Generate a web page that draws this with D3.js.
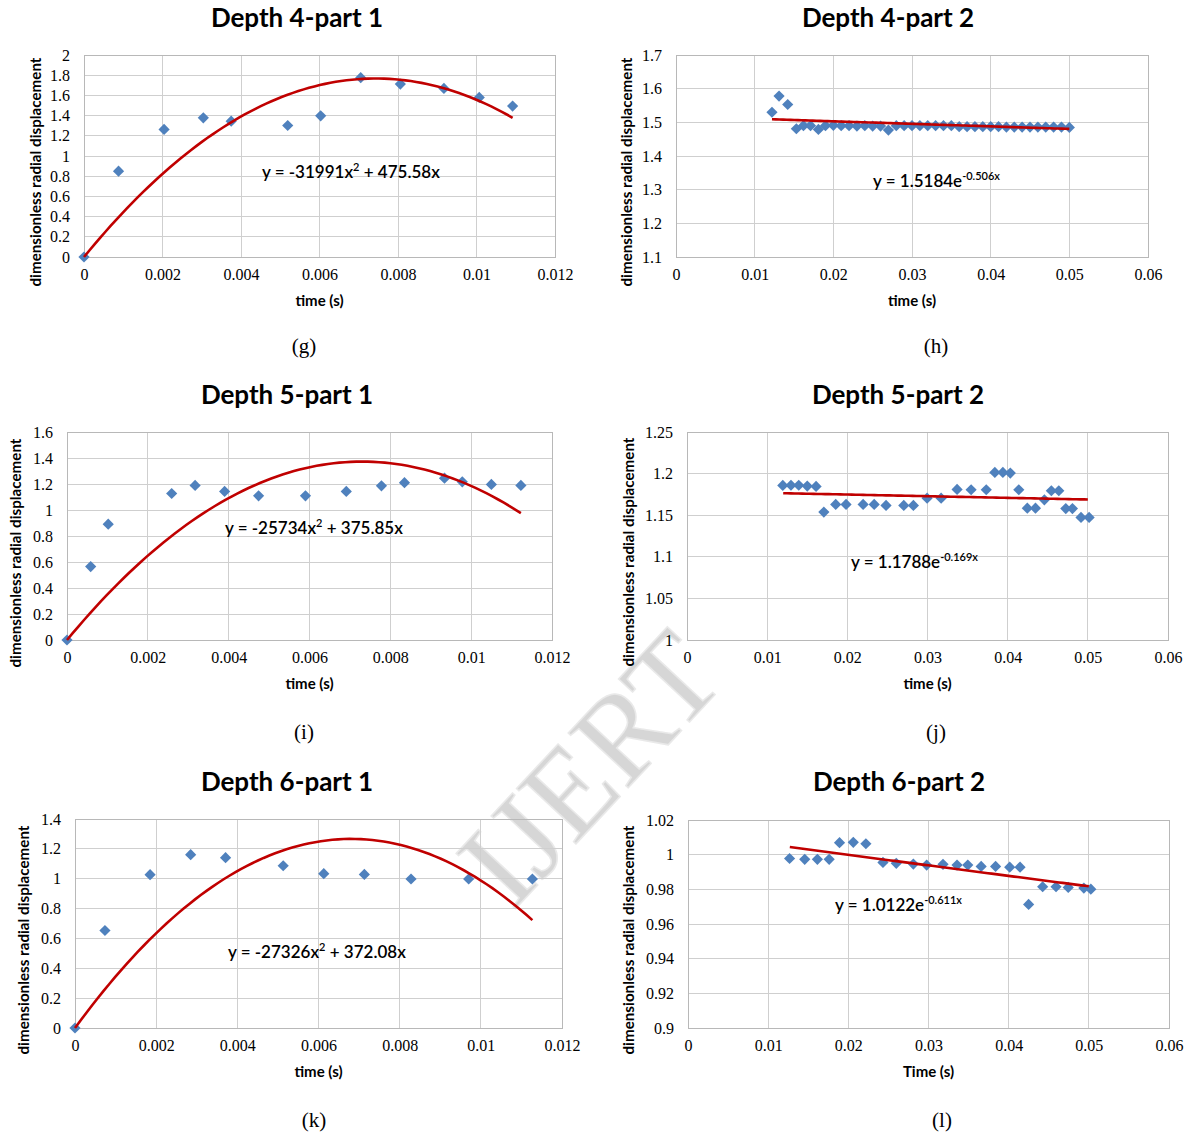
<!DOCTYPE html>
<html><head><meta charset="utf-8">
<script src="https://cdn.jsdelivr.net/npm/d3@7"></script>
<style>body{margin:0;background:#fff} svg{display:block}</style>
</head><body>
<svg id="c" width="1191" height="1138"></svg>
<script>
// ---------------- DATA ----------------
const chartTitles = ["Depth 4-part 1","Depth 4-part 2","Depth 5-part 1","Depth 5-part 2","Depth 6-part 1","Depth 6-part 2"];
const captions = ["(g)","(h)","(i)","(j)","(k)","(l)"];
const xTitles = ["time (s)","time (s)","time (s)","time (s)","time (s)","Time (s)"];
const yTitle = "dimensionless radial displacement";

const xTicksShort = [0,0.002,0.004,0.006,0.008,0.01,0.012];
const xTicksLong = [0,0.01,0.02,0.03,0.04,0.05,0.06];
const yTicksG = [0,0.2,0.4,0.6,0.8,1,1.2,1.4,1.6,1.8,2];
const yTicksH = [1.1,1.2,1.3,1.4,1.5,1.6,1.7];
const yTicksI = [0,0.2,0.4,0.6,0.8,1,1.2,1.4,1.6];
const yTicksJ = [1,1.05,1.1,1.15,1.2,1.25];
const yTicksK = [0,0.2,0.4,0.6,0.8,1,1.2,1.4];
const yTicksL = [0.9,0.92,0.94,0.96,0.98,1,1.02];

const gTime = [0,0.00088,0.00204,0.00304,0.00375,0.00519,0.00603,0.00705,0.00806,0.00917,0.01007,0.01092];
const gDisp = [0,0.85,1.263,1.378,1.345,1.302,1.398,1.775,1.712,1.669,1.580,1.494];

const hTime = [0.0122,0.0131,0.0142,0.0153,0.0162,0.0171,0.0181,0.019,0.020,0.021,0.022,0.023,0.024,0.025,0.026,0.027,0.028,0.029,0.030,0.031,0.032,0.033,0.034,0.035,0.036,0.037,0.038,0.039,0.040,0.041,0.042,0.043,0.044,0.045,0.046,0.047,0.048,0.049,0.050];
const hDisp = [1.530,1.578,1.553,1.481,1.490,1.490,1.479,1.490,1.491,1.490,1.490,1.489,1.490,1.489,1.489,1.477,1.490,1.490,1.490,1.490,1.490,1.490,1.490,1.490,1.487,1.487,1.487,1.487,1.487,1.487,1.486,1.486,1.486,1.486,1.486,1.486,1.486,1.486,1.485];

const iTime = [0,0.000586,0.00102,0.00259,0.00317,0.0039,0.00474,0.0059,0.00691,0.00778,0.00835,0.00934,0.00978,0.0105,0.01123];
const iDisp = [0,0.565,0.891,1.127,1.189,1.143,1.109,1.109,1.143,1.186,1.210,1.245,1.217,1.197,1.189];

const jTime = [0.01195,0.01297,0.01394,0.0150,0.0161,0.01707,0.01855,0.01984,0.02197,0.02335,0.02483,0.02704,0.02824,0.02995,0.0317,0.03369,0.03544,0.03733,0.0384,0.0394,0.04033,0.04139,0.04245,0.04347,0.04458,0.04545,0.04638,0.04725,0.04808,0.04915,0.05016];
const jDisp = [1.1858,1.186,1.186,1.185,1.1846,1.1537,1.163,1.163,1.163,1.163,1.1617,1.1617,1.1617,1.1705,1.1705,1.181,1.1806,1.1806,1.2014,1.2014,1.2006,1.1806,1.1585,1.1585,1.1685,1.1794,1.1794,1.158,1.158,1.1473,1.1473];

const kTime = [0,0.000738,0.00185,0.00285,0.00371,0.00513,0.00613,0.00713,0.00828,0.0097,0.01127];
const kDisp = [0,0.653,1.027,1.161,1.141,1.087,1.034,1.029,0.998,0.998,0.998];

const lTime = [0.01267,0.01456,0.01614,0.01761,0.0189,0.02062,0.02219,0.02432,0.02598,0.02811,0.02977,0.03181,0.03356,0.0349,0.03657,0.03837,0.04013,0.04142,0.04249,0.04424,0.04591,0.04743,0.04938,0.05025];
const lDisp = [0.9978,0.9973,0.9973,0.9973,1.0069,1.0071,1.0063,0.9955,0.995,0.9946,0.994,0.9944,0.994,0.994,0.9932,0.9932,0.9928,0.9928,0.9713,0.9815,0.9815,0.9811,0.9807,0.9801];

// trendline fits (as printed on the chart)
const fitType = ["quad","exp","quad","exp","quad","exp"];
const fitA = [-31991,1.5184,-25734,1.1788,-27326,1.0122];
const fitB = [475.58,-0.506,375.85,-0.169,372.08,-0.611];
const fitStart = [0,0.0122,0,0.0120,0,0.0127];
const fitEnd = [0.01092,0.0500,0.01123,0.0500,0.01127,0.0500];
const eqMain = ["y = -31991x","y = 1.5184e","y = -25734x","y = 1.1788e","y = -27326x","y = 1.0122e"];
const eqSup = ["2","-0.506x","2","-0.169x","2","-0.611x"];
const eqTail = [" + 475.58x",""," + 375.85x",""," + 372.08x",""];

// ---------------- LAYOUT ----------------
const series = [[gTime,gDisp],[hTime,hDisp],[iTime,iDisp],[jTime,jDisp],[kTime,kDisp],[lTime,lDisp]];
const yTickSets = [yTicksG,yTicksH,yTicksI,yTicksJ,yTicksK,yTicksL];
const xTickSets = [xTicksShort,xTicksLong,xTicksShort,xTicksLong,xTicksShort,xTicksLong];
const layout = [
  {L:84,R:555,T:55,B:257, tx:297,ty:27, ytx:35,yty:172, eqx:262,eqy:178, cx:304,cy:353},
  {L:676,R:1148,T:55,B:257, tx:888,ty:27, ytx:626,yty:172, eqx:873,eqy:187, cx:936,cy:353},
  {L:67,R:552,T:432,B:640, tx:287,ty:404, ytx:15,yty:553, eqx:225,eqy:534, cx:304,cy:739},
  {L:687,R:1168,T:432,B:640, tx:898,ty:404, ytx:628,yty:552, eqx:851,eqy:568, cx:936,cy:739},
  {L:75,R:562,T:819,B:1028, tx:287,ty:791, ytx:23,yty:940, eqx:228,eqy:958, cx:314,cy:1127},
  {L:688,R:1169,T:820,B:1028, tx:899,ty:791, ytx:628,yty:940, eqx:835,eqy:911, cx:942,cy:1127}
];

const svg = d3.select("#c");
const sans = "Lato, 'Open Sans', sans-serif";
const serif = "'Liberation Serif', 'Times New Roman', serif";
const fmt = v => String(+v.toFixed(5));

// watermark (behind)
svg.append("text")
  .attr("transform","translate(590,768) rotate(-47)")
  .attr("text-anchor","middle").attr("dominant-baseline","central")
  .attr("font-family",serif).attr("font-size",124)
  .attr("fill","#cdcdcd").attr("opacity",0.8)
  .attr("stroke","#e4e4e4").attr("stroke-width",1.5)
  .text("IJERT");

layout.forEach((p,i)=>{
  const xt = xTickSets[i], yt = yTickSets[i];
  const x = d3.scaleLinear().domain([xt[0], xt[xt.length-1]]).range([p.L,p.R]);
  const y = d3.scaleLinear().domain([yt[0], yt[yt.length-1]]).range([p.B,p.T]);
  const g = svg.append("g");

  // gridlines
  g.append("g").selectAll("line").data(yt).join("line")
    .attr("x1",p.L).attr("x2",p.R).attr("y1",d=>y(d)).attr("y2",d=>y(d))
    .attr("stroke","#cfcfcf").attr("stroke-width",1).attr("shape-rendering","crispEdges");
  g.append("g").selectAll("line").data(xt).join("line")
    .attr("y1",p.T).attr("y2",p.B).attr("x1",d=>x(d)).attr("x2",d=>x(d))
    .attr("stroke","#cfcfcf").attr("stroke-width",1).attr("shape-rendering","crispEdges");
  g.append("rect").attr("x",p.L).attr("y",p.T).attr("width",p.R-p.L).attr("height",p.B-p.T)
    .attr("fill","none").attr("stroke","#b8b8b8").attr("shape-rendering","crispEdges");

  // axes (labels via d3 axes)
  const ax = g.append("g").attr("transform",`translate(0,${p.B})`)
    .call(d3.axisBottom(x).tickValues(xt).tickFormat(fmt).tickSize(0).tickPadding(12));
  ax.select(".domain").remove();
  ax.attr("font-family",serif).attr("font-size",16);
  ax.selectAll("text").style("font-family",serif).style("font-size","16px").attr("fill","#000");
  const ay = g.append("g").attr("transform",`translate(${p.L},0)`)
    .call(d3.axisLeft(y).tickValues(yt).tickFormat(fmt).tickSize(0).tickPadding(14));
  ay.select(".domain").remove();
  ay.attr("font-family",serif).attr("font-size",16);
  ay.selectAll("text").style("font-family",serif).style("font-size","16px").attr("fill","#000");

  // trendline
  const [t0,t1] = [fitStart[i], fitEnd[i]];
  const pts = d3.range(0,81).map(k=>{
    const t = t0 + (t1-t0)*k/80;
    const v = fitType[i]==="quad" ? fitA[i]*t*t + fitB[i]*t : fitA[i]*Math.exp(fitB[i]*t);
    return [t,v];
  });

  // markers
  const [tx,ty] = series[i];
  g.append("g").selectAll("path").data(tx.map((t,k)=>[t,ty[k]])).join("path")
    .attr("d", d3.symbol().type(d3.symbolDiamond2).size(80))
    .attr("transform",d=>`translate(${x(d[0])},${y(d[1])})`)
    .attr("fill","#4f81bd");

  g.append("path").datum(pts)
    .attr("d", d3.line().x(d=>x(d[0])).y(d=>y(d[1])))
    .attr("fill","none").attr("stroke","#c00000").attr("stroke-width",2.6);

  // equation
  const eq = g.append("text").attr("x",p.eqx).attr("y",p.eqy)
    .attr("font-family",sans).attr("font-size",17).attr("font-weight",600).attr("fill","#000");
  eq.append("tspan").text(eqMain[i]);
  eq.append("tspan").attr("font-size",11).attr("dy",-7).text(eqSup[i]);
  if (eqTail[i]) eq.append("tspan").attr("dy",7).text(eqTail[i]);

  // titles
  svg.append("text").attr("x",p.tx).attr("y",p.ty).attr("text-anchor","middle")
    .attr("font-family",sans).attr("font-weight",700).attr("font-size",26).attr("fill","#000")
    .text(chartTitles[i]);
  svg.append("text").attr("x",(p.L+p.R)/2).attr("y",p.B+49).attr("text-anchor","middle")
    .attr("font-family",sans).attr("font-weight",700).attr("font-size",15).attr("fill","#000")
    .text(xTitles[i]);
  svg.append("text").attr("transform",`translate(${p.ytx},${p.yty}) rotate(-90)`)
    .attr("text-anchor","middle").attr("dominant-baseline","central")
    .attr("font-family",sans).attr("font-weight",700).attr("font-size",15.2).attr("fill","#000")
    .text(yTitle);
  svg.append("text").attr("x",p.cx).attr("y",p.cy).attr("text-anchor","middle")
    .attr("font-family",serif).attr("font-size",21).attr("fill","#000")
    .text(captions[i]);
});
</script>
</body></html>
